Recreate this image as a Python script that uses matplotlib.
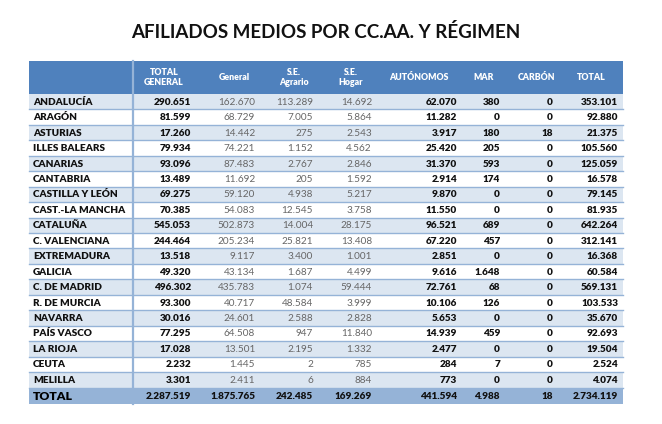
import matplotlib
matplotlib.use("Agg")
import matplotlib.pyplot as plt
from matplotlib.patches import Rectangle

plt.rcParams['font.family'] = ['Lato', 'DejaVu Sans']

title = "AFILIADOS MEDIOS POR CC.AA. Y RÉGIMEN"
headers = ["TOTAL\nGENERAL", "General", "S.E.\nAgrario", "S.E.\nHogar",
           "AUTÓNOMOS", "MAR", "CARBÓN", "TOTAL"]
regions = ["ANDALUCÍA", "ARAGÓN", "ASTURIAS", "ILLES BALEARS", "CANARIAS",
           "CANTABRIA", "CASTILLA Y LEÓN", "CAST.-LA MANCHA", "CATALUÑA",
           "C. VALENCIANA", "EXTREMADURA", "GALICIA", "C. DE MADRID",
           "R. DE MURCIA", "NAVARRA", "PAÍS VASCO", "LA RIOJA", "CEUTA", "MELILLA"]
total_general = ["290.651", "81.599", "17.260", "79.934", "93.096", "13.489", "69.275",
                 "70.385", "545.053", "244.464", "13.518", "49.320", "496.302", "93.300",
                 "30.016", "77.295", "17.028", "2.232", "3.301"]
general = ["162.670", "68.729", "14.442", "74.221", "87.483", "11.692", "59.120",
           "54.083", "502.873", "205.234", "9.117", "43.134", "435.783", "40.717",
           "24.601", "64.508", "13.501", "1.445", "2.411"]
agrario = ["113.289", "7.005", "275", "1.152", "2.767", "205", "4.938", "12.545",
           "14.004", "25.821", "3.400", "1.687", "1.074", "48.584", "2.588", "947",
           "2.195", "2", "6"]
hogar = ["14.692", "5.864", "2.543", "4.562", "2.846", "1.592", "5.217", "3.758",
         "28.175", "13.408", "1.001", "4.499", "59.444", "3.999", "2.828", "11.840",
         "1.332", "785", "884"]
autonomos = ["62.070", "11.282", "3.917", "25.420", "31.370", "2.914", "9.870",
             "11.550", "96.521", "67.220", "2.851", "9.616", "72.761", "10.106",
             "5.653", "14.939", "2.477", "284", "773"]
mar = ["380", "0", "180", "205", "593", "174", "0", "0", "689", "457", "0", "1.648",
       "68", "126", "0", "459", "0", "7", "0"]
carbon = ["0", "0", "18", "0", "0", "0", "0", "0", "0", "0", "0", "0", "0", "0",
          "0", "0", "0", "0", "0"]
total = ["353.101", "92.880", "21.375", "105.560", "125.059", "16.578", "79.145",
         "81.935", "642.264", "312.141", "16.368", "60.584", "569.131", "103.533",
         "35.670", "92.693", "19.504", "2.524", "4.074"]
total_row = ["2.287.519", "1.875.765", "242.485", "169.269", "441.594", "4.988", "18",
             "2.734.119"]

columns = [total_general, general, agrario, hogar, autonomos, mar, carbon, total]

W, H = 662, 424
fig = plt.figure(figsize=(W / 100, H / 100), dpi=100)
ax = fig.add_axes([0, 0, 1, 1])
ax.set_xlim(0, W)
ax.set_ylim(H, 0)
ax.axis('off')

HEADER_BLUE = "#4F81BD"
BAND = "#DCE6F1"
TOTAL_BLUE = "#95B3D7"
LINE = "#95B3D7"
BOLD = 'heavy'

left, right = 29, 623
top, head_bot = 61, 94
row_h = 15.45
name_sep = 133
val_right = [191, 255, 313, 372, 457, 500, 553, 618]
head_center = [164, 234, 294, 351, 419, 484, 536, 591]
bold_cols = [True, False, False, False, True, True, True, True]

ax.text(W / 2 - 5, 32, title, ha='center', va='center', fontsize=13.5,
        fontweight='bold', color='#111111')

# header
ax.add_patch(Rectangle((left, top), right - left, head_bot - top, color=HEADER_BLUE, lw=0))
for c, h in enumerate(headers):
    ax.text(head_center[c], (top + head_bot) / 2, h, ha='center', va='center',
            fontsize=6.3, fontweight=BOLD, color='white', linespacing=1.1)

# rows
for i, reg in enumerate(regions):
    y0 = head_bot + i * row_h
    color = BAND if i % 2 == 0 else "#FFFFFF"
    ax.add_patch(Rectangle((left, y0), right - left, row_h, color=color, lw=0))
    ax.plot([left, right], [y0 + row_h, y0 + row_h], color=LINE, lw=1.0)
    yc = y0 + row_h / 2 + 0.5
    ax.text(left + 4, yc, reg, ha='left', va='center', fontsize=7.2,
            fontweight=BOLD, color='#111111')
    for c, col in enumerate(columns):
        ax.text(val_right[c], yc, col[i], ha='right', va='center', fontsize=7.2,
                fontweight=BOLD if bold_cols[c] else 'normal',
                color='#111111' if bold_cols[c] else '#666666')

# total row
y0 = head_bot + len(regions) * row_h
tot_h = 404 - y0
ax.add_patch(Rectangle((left, y0), right - left, tot_h, color=TOTAL_BLUE, lw=0))
yc = y0 + tot_h / 2 + 0.5
ax.text(left + 4, yc, "TOTAL", ha='left', va='center', fontsize=8.8,
        fontweight=BOLD, color='#000000', zorder=5)
for c, v in enumerate(total_row):
    ax.text(val_right[c], yc, v, ha='right', va='center', fontsize=7.2,
            fontweight=BOLD, color='#111111')

# vertical separator
ax.plot([name_sep, name_sep], [top, 404], color=LINE, lw=1.6)

fig.savefig("out.png", dpi=100)
